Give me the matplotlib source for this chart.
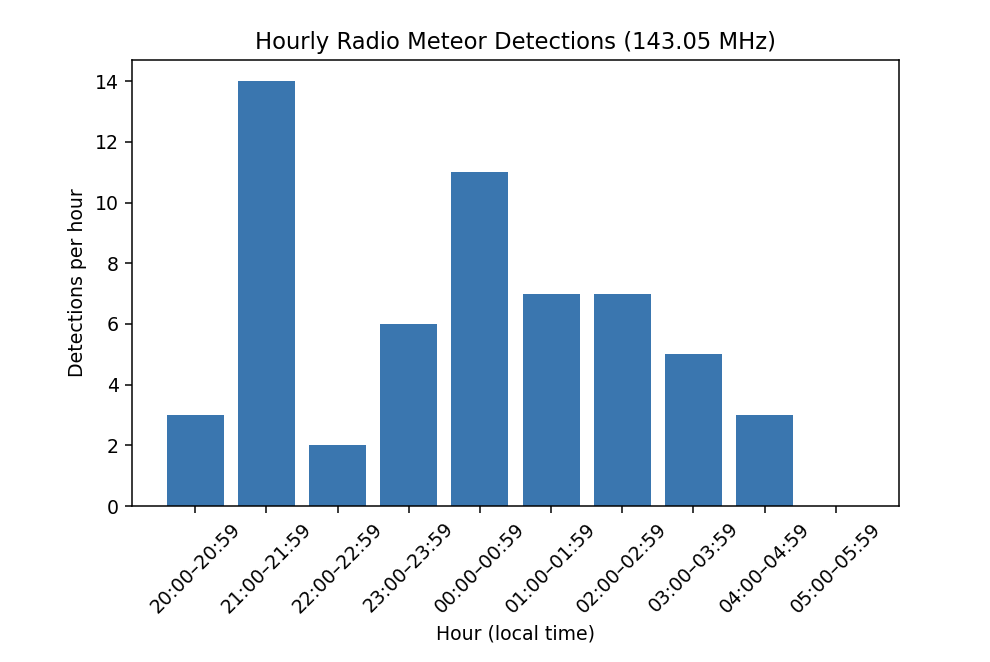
import matplotlib
matplotlib.use("Agg")
import matplotlib.pyplot as plt
import numpy as np

# hourly bins (local time) and counts
hours = ["20:00–20:59", "21:00–21:59", "22:00–22:59", "23:00–23:59",
         "00:00–00:59", "01:00–01:59", "02:00–02:59", "03:00–03:59",
         "04:00–04:59", "05:00–05:59"]
counts = [3, 14, 2, 6, 11, 7, 7, 5, 3, 0]

bar_color = "#3a76af"

DPI = 136
fig = plt.figure(figsize=(990 / DPI, 662 / DPI), dpi=DPI)
ax = fig.add_axes([0.1333, 0.2356, 0.7748, 0.6737])

x = np.arange(len(hours))
ax.bar(x, counts, width=0.8, color=bar_color)

ax.set_xticks(x)
ax.set_xticklabels(hours, rotation=45)

ax.set_title("Hourly Radio Meteor Detections (143.05 MHz)")
ax.set_xlabel("Hour (local time)")
ax.set_ylabel("Detections per hour")

fig.savefig("out.png", dpi=DPI)
